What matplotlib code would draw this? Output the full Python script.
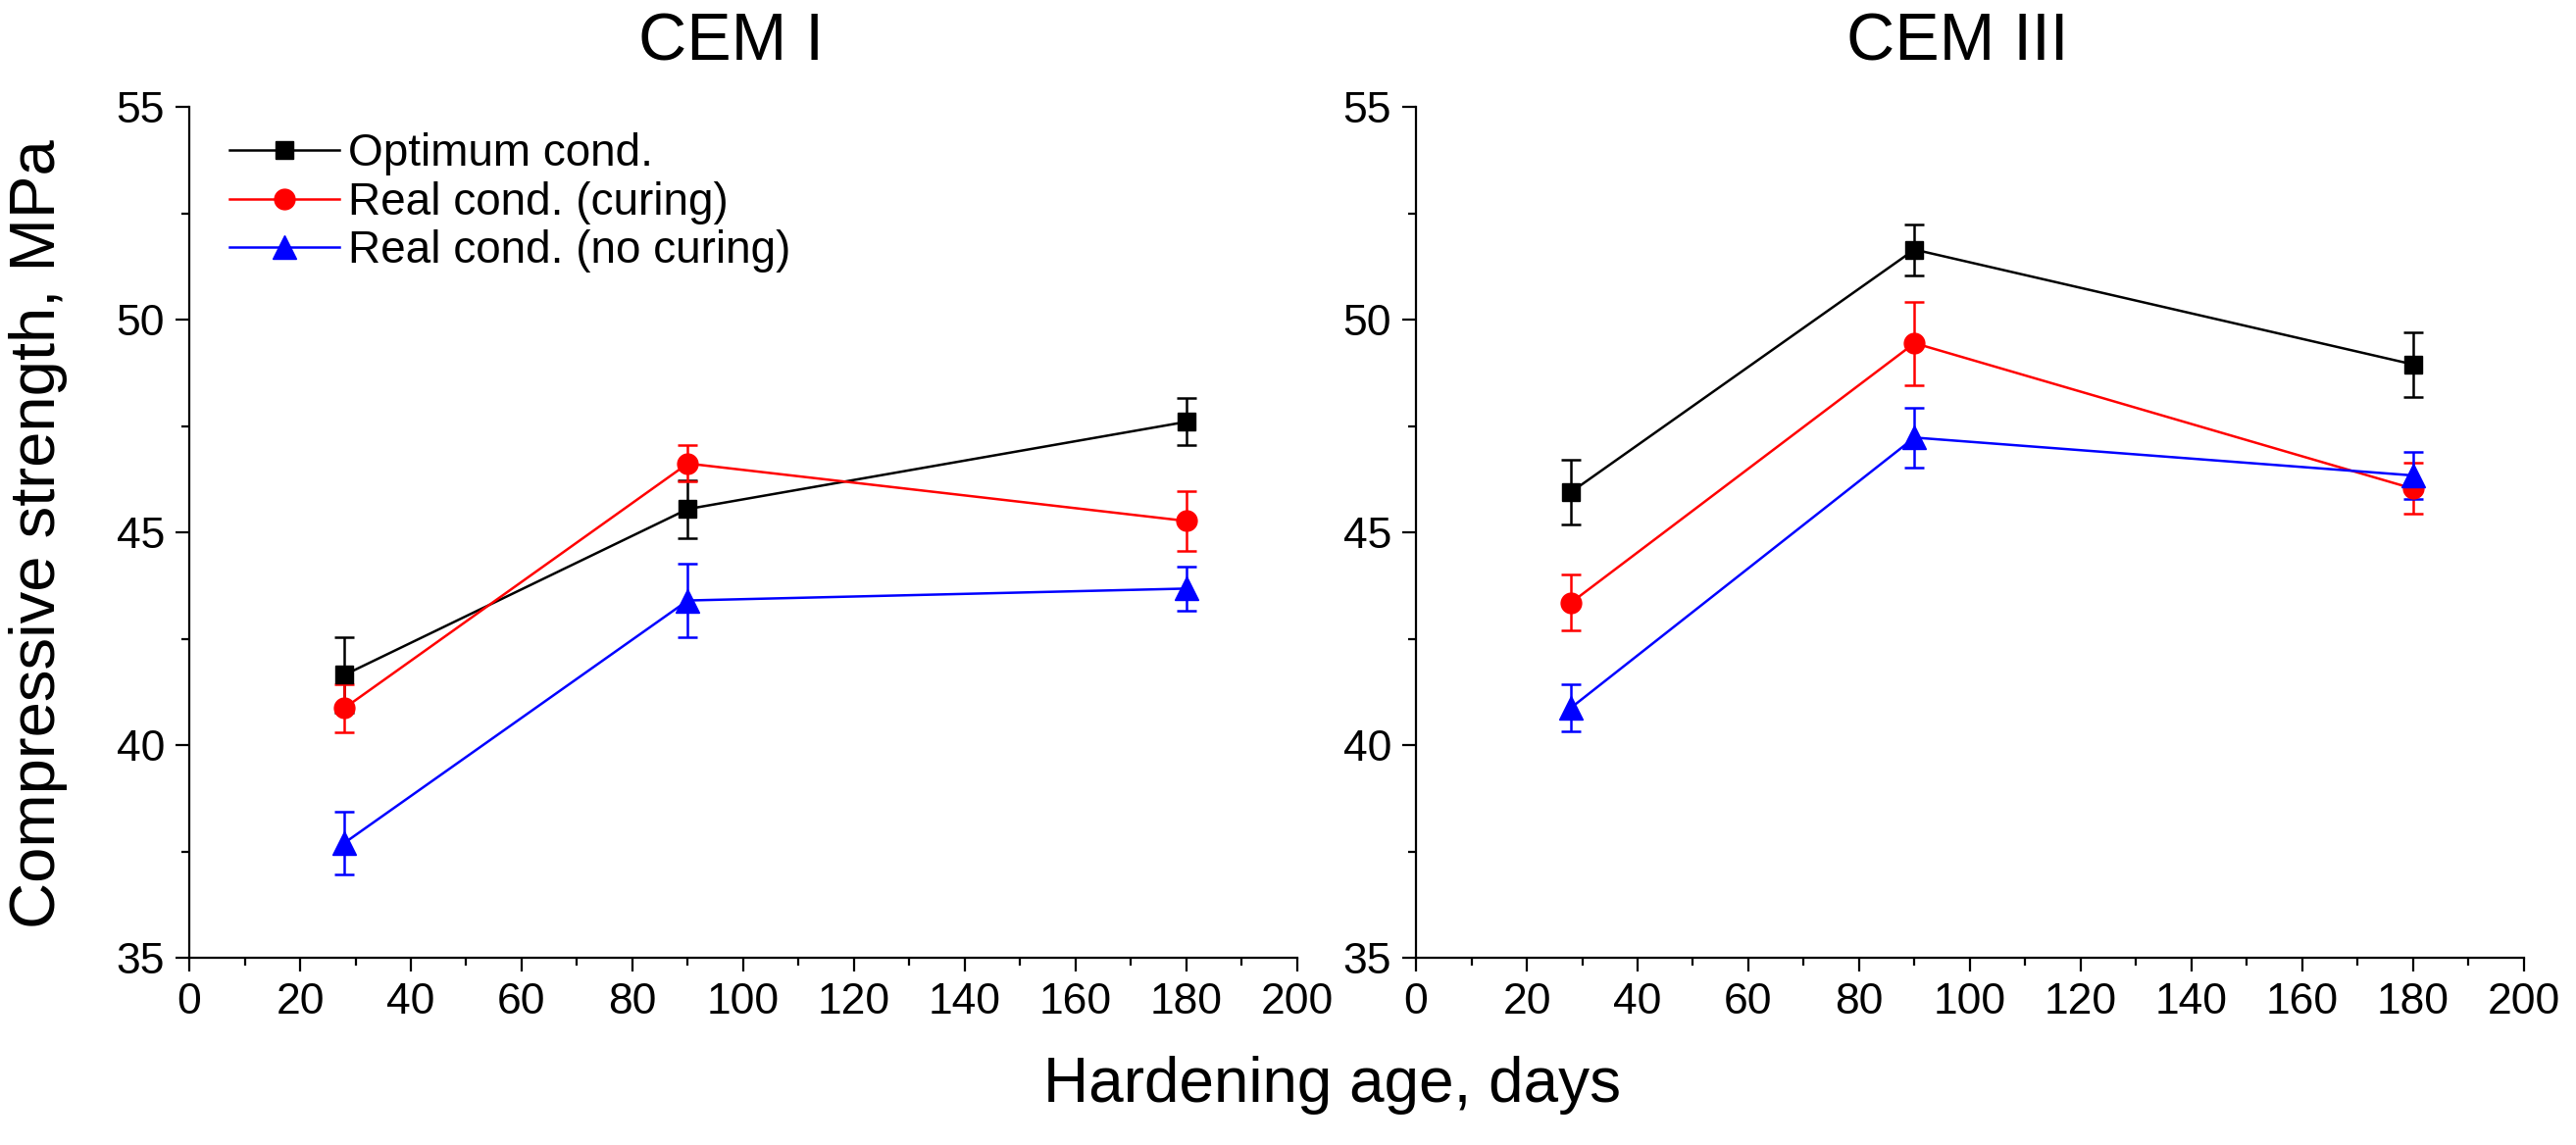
import matplotlib
matplotlib.use("Agg")
import matplotlib.pyplot as plt
from matplotlib.lines import Line2D
from matplotlib.ticker import MultipleLocator

plt.rcParams['font.family'] = ['Liberation Sans', 'DejaVu Sans']

# hardening age, days
days = [28, 90, 180]

# CEM I
cem1_opt = [41.65, 45.55, 47.6]
cem1_opt_err = [0.88, 0.68, 0.55]
cem1_cur = [40.87, 46.62, 45.27]
cem1_cur_err = [0.57, 0.43, 0.7]
cem1_nocur = [37.7, 43.4, 43.68]
cem1_nocur_err = [0.74, 0.86, 0.52]

# CEM III
cem3_opt = [45.95, 51.65, 48.95]
cem3_opt_err = [0.76, 0.6, 0.76]
cem3_cur = [43.35, 49.45, 46.03]
cem3_cur_err = [0.66, 0.98, 0.6]
cem3_nocur = [40.88, 47.23, 46.34]
cem3_nocur_err = [0.56, 0.7, 0.56]

labels = ['Optimum cond.', 'Real cond. (curing)', 'Real cond. (no curing)']
titles = ['CEM I', 'CEM III']

styles = [('black', 's', 13), ('red', 'o', 15), ('blue', '^', 17)]

fig = plt.figure(figsize=(26.27, 11.68), dpi=100)
ax1 = fig.add_axes([0.0735, 0.1635, 0.430, 0.743])
ax2 = fig.add_axes([0.5497, 0.1635, 0.430, 0.743])

panels = [
    (ax1, [(cem1_opt, cem1_opt_err), (cem1_cur, cem1_cur_err), (cem1_nocur, cem1_nocur_err)]),
    (ax2, [(cem3_opt, cem3_opt_err), (cem3_cur, cem3_cur_err), (cem3_nocur, cem3_nocur_err)]),
]

for i, (ax, series) in enumerate(panels):
    for (vals, errs), (color, marker, ms) in zip(series, styles):
        ax.errorbar(days, vals, yerr=errs, color=color, marker=marker, markersize=ms,
                    linewidth=1.8, elinewidth=1.8, capsize=7, capthick=1.8)
    ax.set_xlim(0, 200)
    ax.set_ylim(35, 55)
    ax.xaxis.set_major_locator(MultipleLocator(20))
    ax.xaxis.set_minor_locator(MultipleLocator(10))
    ax.yaxis.set_major_locator(MultipleLocator(5))
    ax.yaxis.set_minor_locator(MultipleLocator(2.5))
    ax.spines['top'].set_visible(False)
    ax.spines['right'].set_visible(False)
    for s in ['left', 'bottom']:
        ax.spines[s].set_linewidth(1.6)
    ax.tick_params(which='major', direction='out', length=10, width=1.6, labelsize=32, pad=8)
    ax.tick_params(which='minor', direction='out', length=6, width=1.6)
    ax.set_title(titles[i], fontsize=49, pad=34, x=0.489)

# legend shows line + marker only (no error bars)
handles = [Line2D([], [], color=c, marker=m, markersize=ms, linewidth=1.8)
           for c, m, ms in styles]
ax1.legend(handles, labels, loc='upper left', bbox_to_anchor=(0.036, 0.97),
           frameon=False, fontsize=33, handlelength=2.45, handletextpad=0.2,
           labelspacing=0.12, borderaxespad=0, borderpad=0)

fig.text(0.015, 0.534, 'Compressive strength, MPa', rotation=90, fontsize=47,
         ha='center', va='center')
fig.text(0.517, 0.052, 'Hardening age, days', fontsize=46, ha='center', va='center')

fig.savefig('out.png', dpi=100)
